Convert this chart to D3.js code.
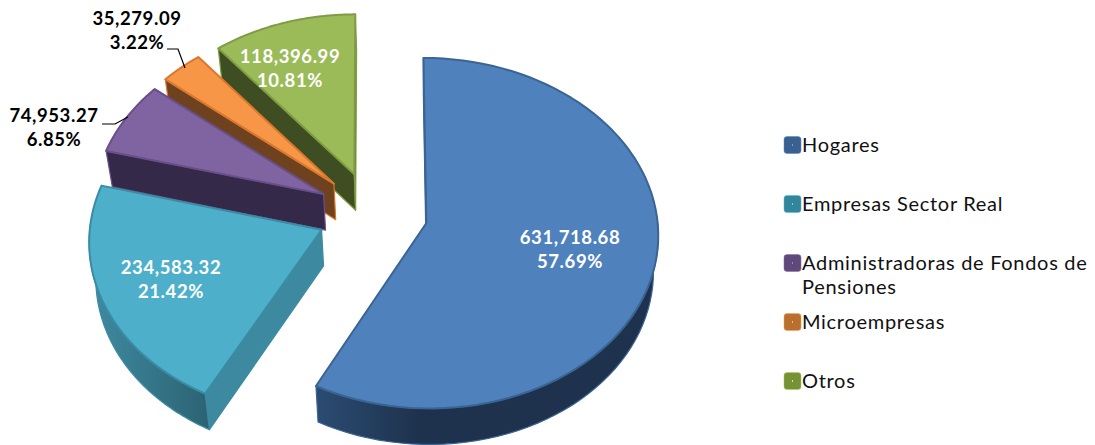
<!DOCTYPE html>
<html>
<head>
<meta charset="utf-8">
<script src="https://cdn.jsdelivr.net/npm/d3@7/dist/d3.min.js"></script>
<style>
  html, body { margin: 0; padding: 0; background: #fff; }
  svg { display: block; }
  text { font-family: "Lato", sans-serif; }
</style>
</head>
<body>
<svg id="chart" width="1095" height="445"></svg>
<script>
// Portfolio split by holder type
const categories = ["Hogares", "Empresas Sector Real", "Administradoras de Fondos de Pensiones", "Microempresas", "Otros"];
const values = [631718.68, 234583.32, 74953.27, 35279.09, 118396.99];

// Palette per slice
const topColors = ["#4f81bd", "#4dafca", "#8064a2", "#f79646", "#9bbb59"];
const edgeColors = ["#3a6494", "#3a8ca4", "#674f88", "#d9782e", "#7f9c45"];
const wallColors = ["#1f3450", "#3d899f", "#35294a", "#6f421f", "#3f4d22"];
const rimLight = ["#2b4c72", "#3f8ba2", "#3d3053", "#7a4a24", "#46562a"];
const rimDark = ["#1e324d", "#2c6474", "#33274a", "#6f421f", "#3f4d22"];
const legendColors = ["#3a6090", "#33859c", "#5f497a", "#b96f30", "#769237"];
const legendLines = [["Hogares"], ["Empresas Sector Real"], ["Administradoras de Fondos de", "Pensiones"], ["Microempresas"], ["Otros"]];

// Data label placement: centre x, first baseline, colour
const labelSpots = [
  { x: 570, y: 244, fill: "#fff" },
  { x: 171, y: 274, fill: "#fff" },
  { x: 54, y: 122, fill: "#000" },
  { x: 137, y: 25, fill: "#000" },
  { x: 290, y: 63, fill: "#fff" }
];
const leaders = [
  null, null,
  [[102, 124], [115, 124], [128, 117]],
  [[167, 49], [178, 49], [185, 68]],
  null
];

// Tilted-disc projection with slight perspective
const view = { cx: 372.5, cy: 213, rx: 230.5, ry: 173.5, k: 0.058, depth: 36, vanishX: 420, shrink: 0.02, explode: 0.24 };
const svg = d3.select("#chart");
const defs = svg.append("defs");

function project(u, v) {
  const w = 1 - view.k * v;
  return [view.cx + view.rx * u / w, view.cy + view.ry * v / w];
}
function drop(p) {
  return [p[0] + (view.vanishX - p[0]) * view.shrink, p[1] + view.depth];
}
// Signed side of point q relative to the line a-b
function side(a, b, q) {
  return (b[0] - a[0]) * (q[1] - a[1]) - (b[1] - a[1]) * (q[0] - a[0]);
}

const pie = d3.pie().sort(null).value(d => d);
const arcs = pie(values);
const total = d3.sum(values);
const line = d3.line();
const fmtValue = d3.format(",.2f");
const fmtPct = d3.format(".2%");

// Back-to-front paint order
const order = [4, 3, 2, 1, 0];

order.forEach(i => {
  const a = arcs[i];
  const mid = (a.startAngle + a.endAngle) / 2;
  const ox = Math.sin(mid) * view.explode;
  const oy = -Math.cos(mid) * view.explode;
  const angles = d3.range(0, 1.0001, 1 / 80).map(t => a.startAngle + (a.endAngle - a.startAngle) * t);
  const outer = angles.map(t => project(ox + Math.sin(t), oy - Math.cos(t)));
  const apex = project(ox, oy);
  const face = [apex].concat(outer);
  const inner = d3.polygonCentroid(face);
  const g = svg.append("g").attr("class", "slice");

  // Radial walls, only those turned toward the camera
  [outer[0], outer[outer.length - 1]].forEach(p => {
    if (side(apex, p, inner) * side(apex, p, drop(p)) > 0) return;
    g.append("path")
      .attr("d", line([apex, p, drop(p), drop(apex)]) + "Z")
      .attr("fill", wallColors[i])
      .attr("stroke", edgeColors[i]).attr("stroke-width", 1.2).attr("stroke-linejoin", "round");
  });

  // Outer wall on the camera-facing part of the arc, shaded along its width
  const front = outer.filter((p, j) => -Math.cos(angles[j]) > -0.05);
  if (front.length > 1) {
    const xs = d3.extent(front, p => p[0]);
    const gradId = "rim" + i;
    const grad = defs.append("linearGradient").attr("id", gradId)
      .attr("gradientUnits", "userSpaceOnUse")
      .attr("x1", xs[0]).attr("x2", xs[1]).attr("y1", 0).attr("y2", 0);
    if (i === 1) {
      grad.append("stop").attr("offset", "0").attr("stop-color", "#3f8ba2");
      grad.append("stop").attr("offset", "1").attr("stop-color", rimDark[i]);
    } else {
      grad.append("stop").attr("offset", "0").attr("stop-color", rimLight[i]);
      grad.append("stop").attr("offset", "0.3").attr("stop-color", rimDark[i]);
      grad.append("stop").attr("offset", "1").attr("stop-color", rimDark[i]);
    }
    g.append("path")
      .attr("d", line(front.concat(front.map(drop).reverse())) + "Z")
      .attr("fill", "url(#" + gradId + ")")
      .attr("stroke", edgeColors[i]).attr("stroke-width", 1.2).attr("stroke-linejoin", "round");
  }

  // Top face
  g.append("path")
    .attr("d", line(face) + "Z")
    .attr("fill", topColors[i])
    .attr("stroke", edgeColors[i]).attr("stroke-width", 2).attr("stroke-linejoin", "round");
});

// Leader lines
leaders.forEach(pts => {
  if (!pts) return;
  svg.append("path").attr("d", line(pts)).attr("fill", "none").attr("stroke", "#000").attr("stroke-width", 1.2);
});

// Data labels
values.forEach((v, i) => {
  const s = labelSpots[i];
  const t = svg.append("text").attr("text-anchor", "middle").attr("fill", s.fill)
    .attr("font-size", 18.5).attr("font-weight", 700).attr("letter-spacing", 0.6);
  t.append("tspan").attr("x", s.x).attr("y", s.y).text(fmtValue(v));
  t.append("tspan").attr("x", s.x).attr("y", s.y + 24).text(fmtPct(v / total));
});

// Legend
const legendY = d3.scalePoint().domain(categories).range([145, 381]);
categories.forEach((c, i) => {
  const y = legendY(c);
  svg.append("rect").attr("x", 784).attr("y", y - 8.5).attr("width", 17).attr("height", 17).attr("rx", 3)
    .attr("fill", legendColors[i]).attr("stroke", d3.color(legendColors[i]).brighter(1).formatHex()).attr("stroke-opacity", 0.5);
  svg.append("rect").attr("x", 792).attr("y", y - 1).attr("width", 1).attr("height", 2)
    .attr("fill", d3.color(legendColors[i]).brighter(1.5).formatHex());
  const t = svg.append("text").attr("fill", "#111").attr("font-size", 20).attr("letter-spacing", 0.7);
  legendLines[i].forEach((l, j) => {
    t.append("tspan").attr("x", 802).attr("y", y + 7 + j * 24).text(l);
  });
});
</script>
</body>
</html>
